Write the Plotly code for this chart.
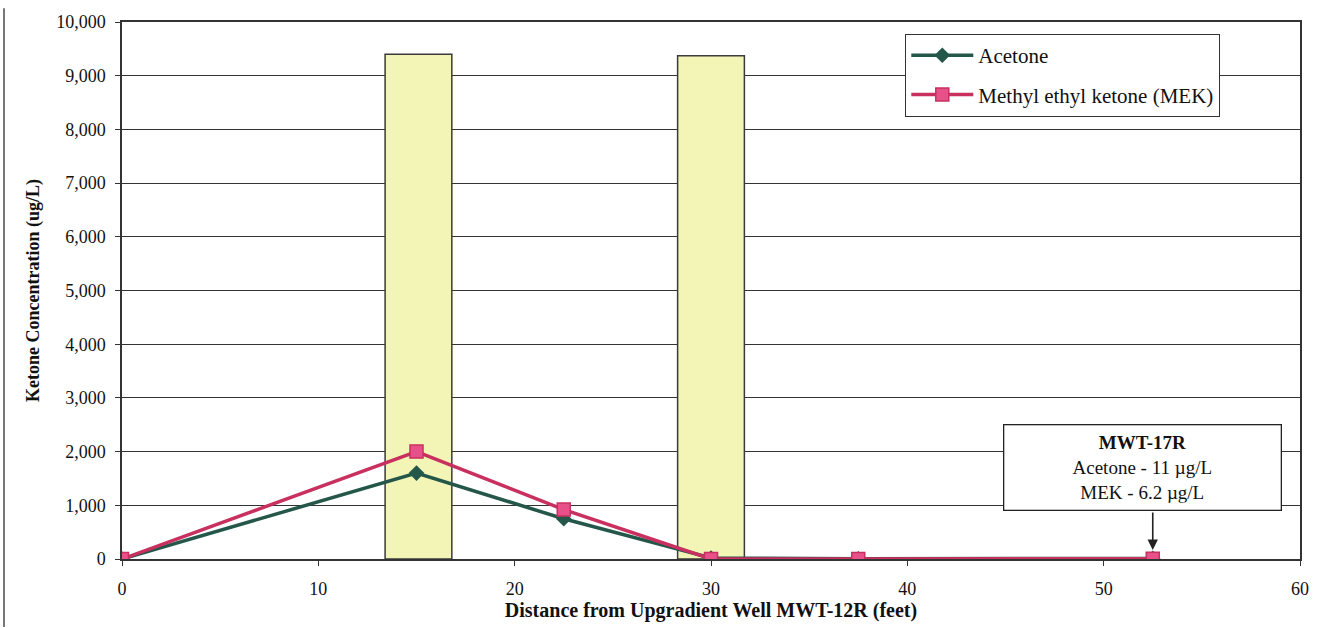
import plotly.graph_objects as go

# Data
distance = [0, 15, 22.5, 30, 37.5, 52.5]
acetone = [0, 1600, 750, 20, 5, 11]
mek = [0, 2000, 920, 0, 0, 6.2]

zone_center = [15.1, 30.0]
zone_width = [3.4, 3.4]
zone_top = [9400, 9370]

x_ticks = [0, 10, 20, 30, 40, 50, 60]
y_ticks = [0, 1000, 2000, 3000, 4000, 5000, 6000, 7000, 8000, 9000, 10000]

callout_x = 52.5
callout_y = 0
callout_text = "<b>MWT-17R</b><br>Acetone - 11 µg/L<br>MEK - 6.2 µg/L"

FONT = "'Liberation Serif', 'Times New Roman', 'DejaVu Serif', serif"

fig = go.Figure()

fig.add_trace(go.Bar(
    x=zone_center, y=zone_top, width=zone_width,
    marker=dict(color="#F2F5B6", line=dict(color="#3a3a3a", width=1.5)),
    showlegend=False, hoverinfo="skip",
))

fig.add_trace(go.Scatter(
    x=distance, y=acetone, mode="lines+markers", name="Acetone",
    legendgroup="a",
    line=dict(color="#24574A", width=3.5),
    marker=dict(symbol="diamond", size=12, color="#24574A"),
))
fig.add_trace(go.Scatter(
    x=distance, y=mek, mode="lines+markers", name="Methyl ethyl ketone (MEK)",
    legendgroup="b",
    line=dict(color="#C8305F", width=3.5),
    marker=dict(symbol="square", size=13, color="#E8508A",
                line=dict(color="#C8305F", width=1.5)),
))

# callout box
fig.add_annotation(
    x=callout_x, y=callout_y, xref="x", yref="y",
    text=callout_text, showarrow=False,
    xshift=-10, yshift=48, yanchor="bottom", xanchor="center",
    font=dict(family=FONT, size=19, color="#111"),
    bgcolor="white", bordercolor="#222", borderwidth=1.3, borderpad=7,
    align="center", width=262,
)
# arrow
fig.add_annotation(
    x=callout_x, y=callout_y, xref="x", yref="y", text="",
    showarrow=True, arrowhead=2, arrowsize=1.3, arrowwidth=1.6, arrowcolor="#222",
    ax=0, ay=-48, standoff=9,
)

fig.update_layout(
    width=1324, height=628,
    margin=dict(l=122, r=24, t=14, b=69),
    paper_bgcolor="white", plot_bgcolor="white",
    barmode="overlay",
    font=dict(family=FONT, size=18, color="#111"),
    legend=dict(
        x=(905 - 122) / 1178, y=(559 - 26) / 545, xanchor="left", yanchor="top",
        bgcolor="white", bordercolor="#333", borderwidth=1.3,
        font=dict(family=FONT, size=21, color="#111"),
        tracegroupgap=9, traceorder="grouped",
        itemwidth=62,
    ),
    xaxis=dict(
        range=[0, 60], tickvals=x_ticks, showgrid=False,
        showline=True, linecolor="#333", linewidth=1.5, mirror=True,
        ticks="outside", ticklen=5, tickcolor="#333",
        tickfont=dict(family=FONT, size=18), zeroline=False,
        ticklabelstandoff=8,
        title=dict(text="<b>Distance from Upgradient Well MWT-12R (feet)</b>",
                   font=dict(family=FONT, size=20), standoff=0),
    ),
    yaxis=dict(
        range=[0, 10000], tickvals=y_ticks, tickformat=",d",
        showgrid=True, gridcolor="#333", gridwidth=1.3,
        showline=True, linecolor="#333", linewidth=1.5, mirror=True,
        ticks="outside", ticklen=5, tickcolor="#333",
        tickfont=dict(family=FONT, size=18), zeroline=False,
        ticklabelstandoff=6,
        title=dict(text="<b>Ketone Concentration (ug/L)</b>",
                   font=dict(family=FONT, size=18), standoff=12),
    ),
)

fig.add_shape(type="line", xref="paper", yref="paper",
              x0=-118/1178, x1=-118/1178, y0=-69/545, y1=1 + 14/545,
              line=dict(color="#777", width=2))

fig.write_html("out.html")
